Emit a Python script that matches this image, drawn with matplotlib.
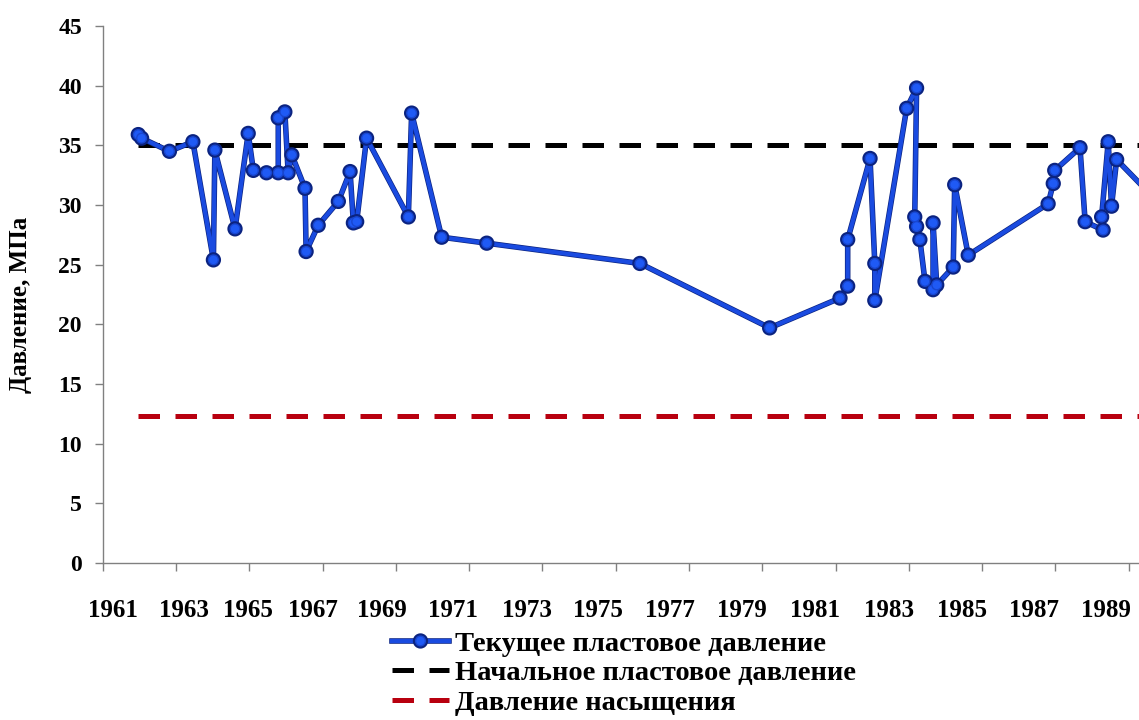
import matplotlib
matplotlib.use("Agg")
import matplotlib.pyplot as plt
import matplotlib.patheffects as pe

# current reservoir pressure measurements (year, MPa)
years = [1961.97, 1962.06, 1962.82, 1963.46, 1964.02, 1964.06, 1964.61, 1964.97,
         1965.11, 1965.47, 1965.79, 1965.79, 1965.97, 1966.06, 1966.16, 1966.52,
         1966.55, 1966.88, 1967.43, 1967.75, 1967.84, 1967.93, 1968.20, 1969.34,
         1969.43, 1970.25, 1971.48, 1975.66, 1979.20, 1981.12, 1981.33, 1981.33,
         1981.94, 1982.07, 1982.07, 1982.94, 1983.21, 1983.16, 1983.21, 1983.30,
         1983.44, 1983.66, 1983.66, 1983.76, 1984.21, 1984.25, 1984.62, 1986.80,
         1986.94, 1986.98, 1987.67, 1987.81, 1988.30, 1988.26, 1988.44, 1988.53,
         1988.67, 1990.00]
pressure = [35.9, 35.6, 34.5, 35.3, 25.4, 34.6, 28.0, 36.0,
            32.9, 32.7, 32.7, 37.3, 37.8, 32.7, 34.2, 31.4,
            26.1, 28.3, 30.3, 32.8, 28.5, 28.6, 35.6, 29.0,
            37.7, 27.3, 26.8, 25.1, 19.7, 22.2, 23.2, 27.1,
            33.9, 25.1, 22.0, 38.1, 39.8, 29.0, 28.2, 27.1,
            23.6, 22.9, 28.5, 23.3, 24.8, 31.7, 25.8, 30.1,
            31.8, 32.9, 34.8, 28.6, 27.9, 29.0, 35.3, 29.9,
            33.8, 29.6]

initial_pressure = 35.0
saturation_pressure = 12.35

tick_years = list(range(1961, 1990, 2))
tick_labels = [str(y) for y in tick_years]
label_pos = [1961.27, 1963.22, 1964.96, 1966.74, 1968.63, 1970.57, 1972.57, 1974.52,
             1976.48, 1978.43, 1980.45, 1982.45, 1984.44, 1986.41, 1988.37]

plt.rcParams['font.family'] = ['Liberation Serif', 'DejaVu Serif']
plt.rcParams['font.weight'] = 'bold'

fig = plt.figure(figsize=(11.39, 7.2), dpi=100)
ax = fig.add_axes([0.0902, 0.2181, 0.9098, 0.7458])

ax.plot(years, pressure, color='#1a4be0', lw=3.0, marker='o', ms=7,
        mfc='#1f5af5', mec='#1846d0', mew=1,
        path_effects=[pe.Stroke(linewidth=4.0, foreground='#0b2380'), pe.Normal()],
        label='Текущее пластовое давление', zorder=3)
ax.plot([years[0], 1990], [initial_pressure, initial_pressure], color='black',
        lw=3.6, ls=(0, (4.3, 3.1)), dash_capstyle='butt',
        label='Начальное пластовое давление', zorder=2)
ax.plot([years[0], 1990], [saturation_pressure, saturation_pressure], color='#b8000f',
        lw=3.6, ls=(0, (4.3, 3.1)), dash_capstyle='butt',
        label='Давление насыщения', zorder=2)

ax.set_xlim(1961, 1989.28)
ax.set_ylim(0, 45)

for side in ['top', 'right']:
    ax.spines[side].set_visible(False)
for side in ['left', 'bottom']:
    ax.spines[side].set_color('#808080')
    ax.spines[side].set_linewidth(1.0)

# labels sit slightly apart from the tick marks
ax.set_xticks(label_pos)
ax.set_xticklabels(tick_labels)
ax.set_xticks(tick_years, minor=True)
ax.tick_params(axis='x', which='major', length=0, pad=26, labelsize=18)
ax.tick_params(axis='x', which='minor', length=6, width=1, color='#808080', direction='out')

ax.set_yticks(range(0, 46, 5))
ax.tick_params(axis='y', length=6, width=1, color='#808080', direction='out',
               pad=9, labelsize=17)

ax.set_ylabel('Давление, МПа', fontsize=18, fontweight='bold')
ax.yaxis.set_label_coords(-0.068, 0.48)

ax.legend(loc='upper left', bbox_to_anchor=(392 / 1139, 1 - 631 / 720),
          bbox_transform=fig.transFigure, frameon=False,
          prop={'family': 'Liberation Serif', 'weight': 'bold', 'size': 20.5},
          handlelength=2.0, handletextpad=0.2, labelspacing=0.12,
          borderpad=0, borderaxespad=0)

fig.savefig('out.png', dpi=100)
